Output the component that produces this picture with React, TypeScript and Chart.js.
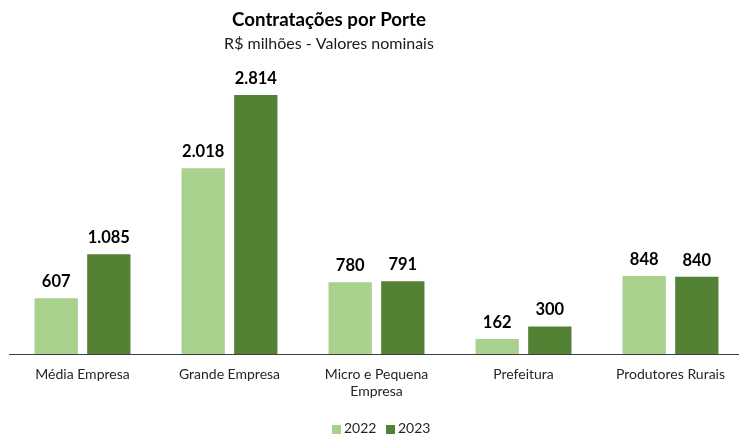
import React, { useEffect, useRef } from "react";
import { Chart, registerables } from "chart.js";

Chart.register(...registerables);

const categories: (string | string[])[] = [
  "Média Empresa",
  "Grande Empresa",
  ["Micro e Pequena", "Empresa"],
  "Prefeitura",
  "Produtores Rurais",
];
const series2022 = [607, 2018, 780, 162, 848];
const series2023 = [1085, 2814, 791, 300, 840];
const seriesLabels = ["2022", "2023"];
const titleText = "Contratações por Porte";
const subtitleText = "R$ milhões - Valores nominais";

const FONT = "Lato, 'Noto Sans', sans-serif";
const COLOR_2022 = "#A9D18E";
const COLOR_2023 = "#548235";

const fmt = (v: number) => v.toLocaleString("pt-BR");

const overlayPlugin = {
  id: "overlay",
  afterDatasetsDraw(chart: any) {
    const ctx = chart.ctx;
    ctx.save();
    // data labels
    ctx.fillStyle = "#000000";
    ctx.font = `bold 16.5px ${FONT}`;
    ctx.textAlign = "center";
    ctx.textBaseline = "alphabetic";
    chart.data.datasets.forEach((ds: any, i: number) => {
      const meta = chart.getDatasetMeta(i);
      meta.data.forEach((bar: any, j: number) => {
        ctx.fillText(fmt(ds.data[j]), bar.x, bar.y - 11);
      });
    });
    // title
    ctx.font = `bold 18.7px ${FONT}`;
    ctx.fillText(titleText, 329, 26);
    ctx.font = `16px ${FONT}`;
    ctx.fillStyle = "#1a1a1a";
    ctx.fillText(subtitleText, 329, 49);
    // legend
    ctx.font = `14px ${FONT}`;
    ctx.textAlign = "left";
    const legendX = [332, 386];
    chart.data.datasets.forEach((ds: any, i: number) => {
      const x = legendX[i];
      ctx.fillStyle = ds.backgroundColor;
      ctx.fillRect(x, 425, 9, 9);
      ctx.fillStyle = "#262626";
      ctx.fillText(ds.label, x + 12, 433);
    });
    ctx.restore();
  },
};

export default function App() {
  const ref = useRef<HTMLCanvasElement>(null);
  useEffect(() => {
    if (!ref.current) return;
    const chart = new Chart(ref.current, {
      type: "bar",
      data: {
        labels: categories,
        datasets: [
          {
            label: seriesLabels[0],
            data: series2022,
            backgroundColor: COLOR_2022,
            categoryPercentage: 0.716,
            barPercentage: 0.823,
          },
          {
            label: seriesLabels[1],
            data: series2023,
            backgroundColor: COLOR_2023,
            categoryPercentage: 0.716,
            barPercentage: 0.823,
          },
        ],
      },
      options: {
        responsive: false,
        animation: false,
        layout: { padding: { top: 78, left: 9, right: 1, bottom: 0 } },
        plugins: {
          legend: { display: false },
          title: { display: false },
          tooltip: { enabled: false },
        },
        scales: {
          x: {
            grid: { display: false, drawTicks: false },
            border: { display: true, color: "#404040", width: 1 },
            ticks: {
              color: "#262626",
              font: { family: FONT, size: 14 },
              padding: 12,
              maxRotation: 0,
              autoSkip: false,
            },
            afterFit: (s: any) => {
              s.height = 81;
            },
          },
          y: {
            display: false,
            min: 0,
            max: 3000,
          },
        },
      },
      plugins: [overlayPlugin],
    });
    return () => chart.destroy();
  }, []);
  return (
    <div style={{ position: "fixed", left: 0, top: 0, width: 745, height: 435, background: "#fff" }}>
      <canvas ref={ref} width={745} height={435} style={{ display: "block" }} />
    </div>
  );
}
